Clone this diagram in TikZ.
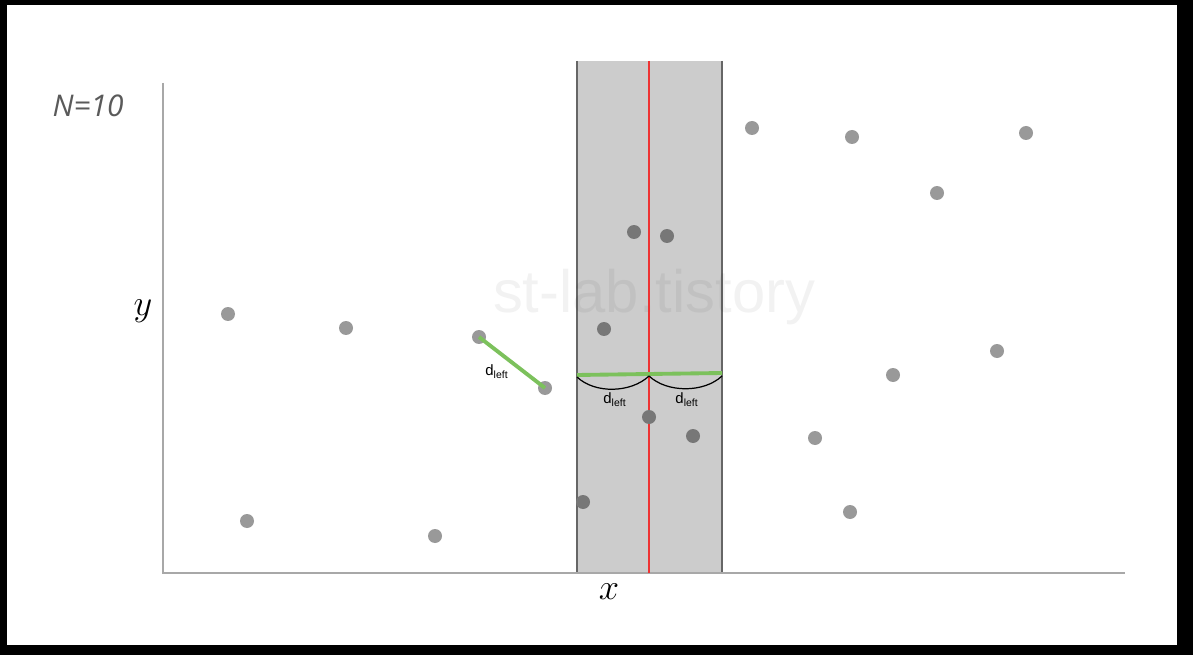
\documentclass[tikz,border=0pt]{standalone}
\usepackage{fontspec}
\setmainfont{Liberation Sans}
\newfontfamily\nfont{Open Sans}
\definecolor{axisgray}{HTML}{A8A8A8}
\definecolor{stripgray}{HTML}{CCCCCC}
\definecolor{stripedge}{HTML}{666666}
\definecolor{redline}{HTML}{EE3333}
\definecolor{greenline}{HTML}{7CC15C}
\definecolor{outdot}{HTML}{999999}
\definecolor{indot}{HTML}{777777}
\definecolor{ntext}{HTML}{5A5A5A}
\begin{document}
\begin{tikzpicture}[x=0.02cm,y=-0.02cm,
  dot/.style={circle,fill=outdot,inner sep=0pt,minimum size=0.28cm},
  indotstyle/.style={dot,fill=indot},
  axis/.style={draw=axisgray,line width=1.6pt},
  edge/.style={draw=stripedge,line width=1.1pt},
  gline/.style={draw=greenline,line width=2.2pt},
  arcline/.style={draw=black,line width=0.7pt},
  dlabel/.style={font=\fontsize{8.5}{9}\selectfont,inner sep=0pt}]
\fill[black] (0,0) rectangle (1193,655);
\fill[white] (7,5) rectangle (1177,645);
\useasboundingbox (0,0) rectangle (1193,655);
% strip
\fill[stripgray] (577,61) rectangle (722,573);
\draw[edge] (577,61) -- (577,573);
\draw[edge] (722,61) -- (722,573);
% watermark
\node[text=black,text opacity=0.05,font=\fontsize{34}{36}\selectfont,inner sep=0pt] (wm) at (654,297) {st-lab.tistory};
% axes
\coordinate (o) at (163,573);
\coordinate (ytop) at (163,83);
\coordinate (xend) at (1125,573);
\draw[axis] (ytop) -- (o) -- (xend);
% red median line
\coordinate (rtop) at (649,61);
\coordinate (rbot) at (649,573);
\draw[draw=redline,line width=1.1pt] (rtop) -- (rbot);
% labels
\node[text=ntext,font=\nfont\itshape\fontsize{17}{19}\selectfont] (n) at (88,106) {N=10};
\node[font=\fontsize{20}{22}\selectfont] (ylab) at (143,311) {$y$};
\node[font=\fontsize{20}{22}\selectfont] (xlab) at (609,592) {$x$};
% points outside strip
\node[dot] (p1) at (228,314) {};
\node[dot] (p2) at (346,328) {};
\node[dot] (p3) at (479,337) {};
\node[dot] (p4) at (545,388) {};
\node[dot] (p5) at (247,521) {};
\node[dot] (p6) at (435,536) {};
\node[dot] (p7) at (752,128) {};
\node[dot] (p8) at (852,137) {};
\node[dot] (p9) at (1026,133) {};
\node[dot] (p10) at (937,193) {};
\node[dot] (p11) at (893,375) {};
\node[dot] (p12) at (997,351) {};
\node[dot] (p13) at (815,438) {};
\node[dot] (p14) at (850,512) {};
% points inside strip
\node[indotstyle] (q1) at (634,232) {};
\node[indotstyle] (q2) at (667,236) {};
\node[indotstyle] (q3) at (604,329) {};
\node[indotstyle] (q4) at (649,417) {};
\node[indotstyle] (q5) at (693,436) {};
\node[indotstyle] (q6) at (583,502) {};
% closest pair on the left
\draw[gline] (p3.center) -- (p4.center);
\node[dlabel] (dl1) at (497,372) {d\textsubscript{left}};
% green strip width
\coordinate (gl) at (577,375);
\coordinate (gm) at (649,374);
\coordinate (gr) at (722,373);
\draw[gline] (gl) -- (gm) -- (gr);
% arcs
\coordinate (al) at (577,377);
\coordinate (am) at (649,376);
\coordinate (ar) at (722,376);
\draw[arcline] (al) .. controls +(18,17) and +(-18,17) .. (am);
\draw[arcline] (am) .. controls +(18,17) and +(-18,17) .. (ar);
\node[dlabel] (dl2) at (615,400) {d\textsubscript{left}};
\node[dlabel] (dl3) at (687,400) {d\textsubscript{left}};
\end{tikzpicture}
\end{document}
